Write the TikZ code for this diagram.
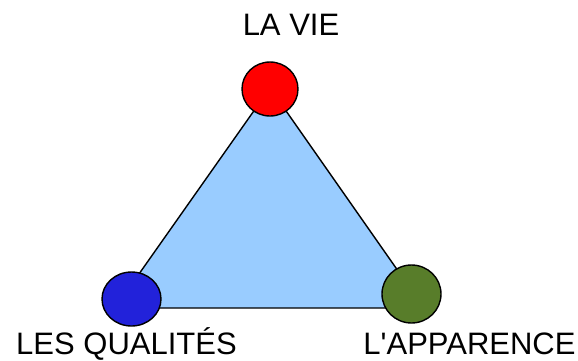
\documentclass[tikz,border=0pt]{standalone}
\usepackage{fontspec}
\setmainfont{Liberation Sans}[Ligatures=TeXOff]
\usetikzlibrary{shapes.geometric}

\begin{document}
\begin{tikzpicture}[x=1pt,y=-1pt,line width=1.4pt,
  pole/.style={draw=black, ellipse, inner sep=0pt},
  label/.style={anchor=base, font=\fontsize{31}{33}\selectfont}]
  \useasboundingbox (0,0) rectangle (578,360);
  \coordinate (t0) at (270,88);
  \coordinate (t1) at (115,308);
  \coordinate (t2) at (424,308);
  \draw [fill={rgb,255:red,153;green,204;blue,255}] (t0) -- (t1) -- (t2) -- cycle;
  \node [pole, fill=red, minimum width=56pt, minimum height=54pt] at (270,89) (vie) {};
  \node [pole, fill={rgb,255:red,34;green,34;blue,218}, minimum width=59pt, minimum height=54pt] at (131.5,299) (qual) {};
  \node [pole, fill={rgb,255:red,88;green,125;blue,42}, minimum width=59pt, minimum height=58pt] at (411.5,294) (app) {};
  \node [label] at (291,35) (lvie) {LA VIE};
  \node [label] at (126.5,354) (lqual) {LES QUALITÉS};
  \node [label] at (469.5,354) (lapp) {L'APPARENCE};
\end{tikzpicture}
\end{document}
